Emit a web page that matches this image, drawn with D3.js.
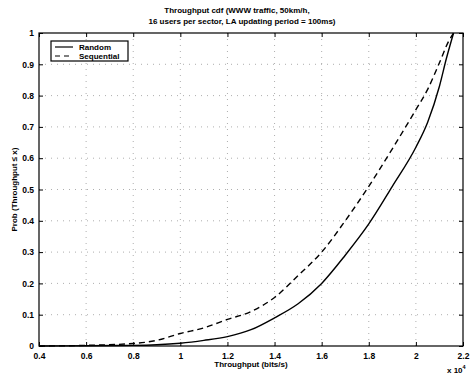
<!DOCTYPE html>
<html>
<head>
<meta charset="utf-8">
<script src="https://cdn.jsdelivr.net/npm/d3@7/dist/d3.min.js"></script>
<style>
  body { margin: 0; background: #fff; }
  text { font-family: "Liberation Sans", Arial, sans-serif; font-weight: bold; fill: #000; }
</style>
</head>
<body>
<div id="chart"></div>
<script>
// throughput values (x 10^4 bits/s) and cdf values
const randomX = [0.4, 0.6, 0.8, 0.9, 1.0, 1.1, 1.2, 1.3, 1.4, 1.5, 1.6, 1.7, 1.8, 1.9, 2.0, 2.05, 2.1, 2.13, 2.16];
const randomP = [0, 0.001, 0.002, 0.004, 0.009, 0.018, 0.03, 0.052, 0.09, 0.135, 0.2, 0.29, 0.39, 0.51, 0.635, 0.715, 0.83, 0.92, 1.0];

const seqX = [0.4, 0.6, 0.8, 0.9, 1.0, 1.1, 1.2, 1.3, 1.4, 1.5, 1.6, 1.7, 1.8, 1.9, 2.0, 2.05, 2.1, 2.14, 2.16];
const seqP = [0, 0.002, 0.008, 0.018, 0.04, 0.058, 0.085, 0.11, 0.155, 0.225, 0.30, 0.40, 0.51, 0.63, 0.755, 0.82, 0.905, 0.975, 1.0];

const xTicks = [0.4, 0.6, 0.8, 1, 1.2, 1.4, 1.6, 1.8, 2, 2.2];
const yTicks = [0, 0.1, 0.2, 0.3, 0.4, 0.5, 0.6, 0.7, 0.8, 0.9, 1];

const svgWidth = 474;
const svgHeight = 377;
const margins = { top: 33, right: 11, bottom: 31, left: 39 };
const chartWidth = svgWidth - margins.left - margins.right;
const chartHeight = svgHeight - margins.top - margins.bottom;

const svg = d3.select("#chart")
    .append("svg")
    .attr("width", svgWidth)
    .attr("height", svgHeight);

const chartGroup = svg.append("g")
    .attr("transform", `translate(${margins.left}, ${margins.top})`);

const xScale = d3.scaleLinear().domain([0.4, 2.2]).range([0, chartWidth]);
const yScale = d3.scaleLinear().domain([0, 1]).range([chartHeight, 0]);

// faded dotted grid
chartGroup.append("g").selectAll("line")
    .data(xTicks.slice(1, -1))
    .enter().append("line")
    .attr("x1", d => xScale(d)).attr("x2", d => xScale(d))
    .attr("y1", 0).attr("y2", chartHeight)
    .attr("stroke", "#999").attr("stroke-width", 0.8)
    .attr("stroke-dasharray", "1,5");

chartGroup.append("g").selectAll("line")
    .data(yTicks.slice(1, -1))
    .enter().append("line")
    .attr("x1", 0).attr("x2", chartWidth)
    .attr("y1", d => yScale(d)).attr("y2", d => yScale(d))
    .attr("stroke", "#999").attr("stroke-width", 0.8)
    .attr("stroke-dasharray", "1,5");

// axes, ticks pointing inward like matlab
const fmt = d => String(d);
chartGroup.append("g")
    .attr("transform", `translate(0, ${chartHeight})`)
    .call(d3.axisBottom(xScale).tickValues(xTicks).tickFormat(fmt).tickSizeInner(-4).tickSizeOuter(0).tickPadding(7))
    .call(g => g.select(".domain").remove())
    .selectAll("text").attr("font-size", 8.5).attr("font-weight", "bold");

chartGroup.append("g")
    .call(d3.axisLeft(yScale).tickValues(yTicks).tickFormat(fmt).tickSizeInner(-4).tickSizeOuter(0).tickPadding(5))
    .call(g => g.select(".domain").remove())
    .selectAll("text").attr("font-size", 8.5).attr("font-weight", "bold");

chartGroup.append("g")
    .call(d3.axisTop(xScale).tickValues(xTicks).tickFormat("").tickSizeInner(-4).tickSizeOuter(0))
    .call(g => g.select(".domain").remove());

chartGroup.append("g")
    .attr("transform", `translate(${chartWidth}, 0)`)
    .call(d3.axisRight(yScale).tickValues(yTicks).tickFormat("").tickSizeInner(-4).tickSizeOuter(0))
    .call(g => g.select(".domain").remove());

chartGroup.append("rect")
    .attr("width", chartWidth).attr("height", chartHeight)
    .attr("fill", "none").attr("stroke", "#000").attr("stroke-width", 1.2);

// curves
const line = d3.line()
    .x(d => xScale(d[0]))
    .y(d => yScale(d[1]))
    .curve(d3.curveMonotoneX);

chartGroup.append("path")
    .datum(randomX.map((x, i) => [x, randomP[i]]))
    .attr("d", line)
    .attr("fill", "none").attr("stroke", "#000").attr("stroke-width", 1.4);

chartGroup.append("path")
    .datum(seqX.map((x, i) => [x, seqP[i]]))
    .attr("d", line)
    .attr("fill", "none").attr("stroke", "#000").attr("stroke-width", 1.4)
    .attr("stroke-dasharray", "6,4");

// legend
const legend = svg.append("g").attr("transform", "translate(51, 41)");
legend.append("rect")
    .attr("width", 77).attr("height", 20)
    .attr("fill", "#fff").attr("stroke", "#000").attr("stroke-width", 1.2);
legend.append("line")
    .attr("x1", 4).attr("x2", 22).attr("y1", 6).attr("y2", 6)
    .attr("stroke", "#000").attr("stroke-width", 1.2);
legend.append("line")
    .attr("x1", 4).attr("x2", 22).attr("y1", 15).attr("y2", 15)
    .attr("stroke", "#000").attr("stroke-width", 1.2)
    .attr("stroke-dasharray", "5,4");
legend.append("text").attr("x", 28).attr("y", 9).attr("font-size", 8).text("Random");
legend.append("text").attr("x", 28).attr("y", 18).attr("font-size", 8).text("Sequential");

// titles and labels
svg.append("text")
    .attr("x", 237).attr("y", 13)
    .attr("text-anchor", "middle").attr("font-size", 8)
    .text("Throughput cdf (WWW traffic, 50km/h,");
svg.append("text")
    .attr("x", 242).attr("y", 24)
    .attr("text-anchor", "middle").attr("font-size", 8)
    .text("16 users per sector, LA updating period = 100ms)");

svg.append("text")
    .attr("x", margins.left + chartWidth / 2).attr("y", 367)
    .attr("text-anchor", "middle").attr("font-size", 8)
    .text("Throughput (bits/s)");

svg.append("text")
    .attr("transform", `translate(17, ${margins.top + chartHeight / 2}) rotate(-90)`)
    .attr("text-anchor", "middle").attr("font-size", 8)
    .text("Prob (Throughput \u2264 x)");

const expo = svg.append("text").attr("x", 447).attr("y", 373).attr("font-size", 8);
expo.append("tspan").text("x 10");
expo.append("tspan").attr("dy", -4).attr("font-size", 5.5).text("4");
</script>
</body>
</html>
